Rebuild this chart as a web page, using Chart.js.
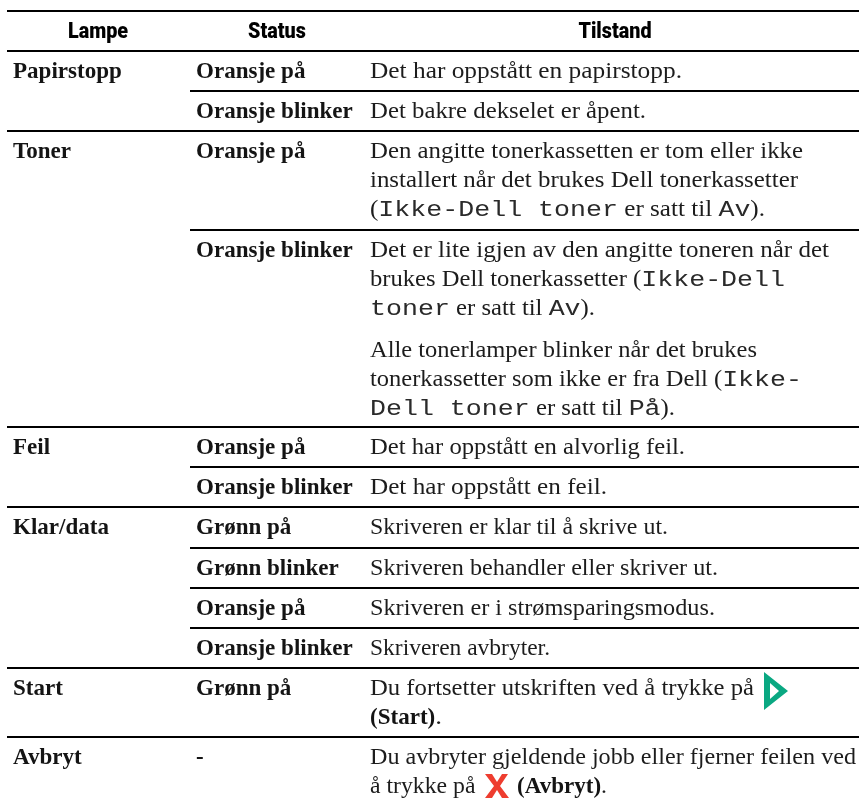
<!DOCTYPE html>
<html>
<head>
<meta charset="utf-8">
<style>
html, body { margin: 0; padding: 0; background: #fff; }
canvas { display: block; }
</style>
</head>
<body>
<canvas id="lampChart" width="859" height="798"></canvas>
<script src="https://cdn.jsdelivr.net/npm/chart.js@4"></script>
<script>
// table content. `x` = monospace run, *x* = bold run
var headers = ['Lampe', 'Status', 'Tilstand'];
var rowHeights = [40, 40, 40, 99, 197, 40, 40, 41, 40, 40, 40, 69, 61];
var lamps = ['', 'Papirstopp', '', 'Toner', '', 'Feil', '', 'Klar/data', '', '', '', 'Start', 'Avbryt'];
var statuses = ['', 'Oransje på', 'Oransje blinker', 'Oransje på', 'Oransje blinker', 'Oransje på',
    'Oransje blinker', 'Grønn på', 'Grønn blinker', 'Oransje på', 'Oransje blinker', 'Grønn på', '-'];
var descriptions = [
    [],
    ['Det har oppstått en papirstopp.'],
    ['Det bakre dekselet er åpent.'],
    ['Den angitte tonerkassetten er tom eller ikke', 'installert når det brukes Dell tonerkassetter',
        '(`Ikke-Dell toner` er satt til `Av`).'],
    ['Det er lite igjen av den angitte toneren når det', 'brukes Dell tonerkassetter (`Ikke-Dell`',
        '`toner` er satt til `Av`).', null,
        'Alle tonerlamper blinker når det brukes', 'tonerkassetter som ikke er fra Dell (`Ikke-`',
        '`Dell toner` er satt til `På`).'],
    ['Det har oppstått en alvorlig feil.'],
    ['Det har oppstått en feil.'],
    ['Skriveren er klar til å skrive ut.'],
    ['Skriveren behandler eller skriver ut.'],
    ['Skriveren er i strømsparingsmodus.'],
    ['Skriveren avbryter.'],
    ['Du fortsetter utskriften ved å trykke på', '*(Start)*.'],
    ['Du avbryter gjeldende jobb eller fjerner feilen ved', 'å trykke på \u2003\u2002*(Avbryt)*.']
];
// right end of every description line
var lineEnds = [
    [],
    [682],
    [646],
    [803, 798, 765],
    [829, 785, 595, null, 757, 802, 675],
    [685],
    [607],
    [668],
    [718],
    [715],
    [550],
    [754, 442],
    [856, 607]
];
var startIcon = [{ x: 776, y: 691 }];
var stopIcon = [{ x: 497, y: 786 }];

var tableTop = 11;
var tableLeft = 7;
var tableRight = 859;
var statusRuleLeft = 190;
var colX = [13, 196, 370];
var headerX = [98, 277, 615];
var lineHeight = 29;
var paragraphGap = 13;
var firstBaseline = 27;

var fonts = {
    n: { font: '23.5px "Liberation Serif"', scaleX: 1.03, color: '#1c1c1c' },
    b: { font: 'bold 24px "Liberation Serif"', scaleX: 0.96, color: '#141414' },
    m: { font: '22px "Liberation Mono"', scaleX: 1.21, color: '#2a2a2a' },
    h: { font: '900 21.5px Roboto', scaleX: 0.92, color: '#000' }
};

var rowTops = [];
rowHeights.reduce(function (top, h) {
    rowTops.push(top);
    return top + h;
}, tableTop);

function parseRuns(line, base) {
    var runs = [];
    line.split(/(`[^`]*`|\*[^*]*\*)/).forEach(function (part) {
        if (!part) return;
        if (part[0] === '`') runs.push({ text: part.slice(1, -1), style: 'm' });
        else if (part[0] === '*') runs.push({ text: part.slice(1, -1), style: 'b' });
        else runs.push({ text: part, style: base });
    });
    return runs;
}

function naturalWidth(ctx, text, f) {
    ctx.save();
    ctx.font = f.font;
    var w = ctx.measureText(text).width;
    ctx.restore();
    return w;
}

function drawRuns(ctx, runs, x, y, end) {
    // the plain serif runs are squeezed or stretched so the line ends where it should
    var fit = fonts.n.scaleX;
    if (end) {
        var fixed = 0;
        var plain = 0;
        runs.forEach(function (run) {
            var f = fonts[run.style];
            if (run.style === 'n') plain += naturalWidth(ctx, run.text, f);
            else fixed += naturalWidth(ctx, run.text, f) * f.scaleX;
        });
        if (plain > 0) fit = (end - x - fixed) / plain;
    }
    runs.forEach(function (run) {
        var f = fonts[run.style];
        var scale = run.style === 'n' ? fit : f.scaleX;
        ctx.save();
        ctx.font = f.font;
        ctx.fillStyle = f.color;
        ctx.textBaseline = 'alphabetic';
        ctx.translate(x, y);
        ctx.scale(scale, 1);
        ctx.fillText(run.text, 0, 0);
        ctx.restore();
        x += naturalWidth(ctx, run.text, f) * scale;
    });
}

var tableText = {
    id: 'tableText',
    afterDatasetsDraw: function (chart) {
        var ctx = chart.ctx;
        var sx = chart.scales.x;
        var sy = chart.scales.y;

        headers.forEach(function (h, i) {
            var w = naturalWidth(ctx, h, fonts.h) * fonts.h.scaleX;
            drawRuns(ctx, [{ text: h, style: 'h' }],
                sx.getPixelForValue(headerX[i]) - w / 2, sy.getPixelForValue(tableTop + firstBaseline));
        });

        rowTops.forEach(function (top, r) {
            var base = top + firstBaseline;
            if (lamps[r]) drawRuns(ctx, [{ text: lamps[r], style: 'b' }], sx.getPixelForValue(colX[0]), sy.getPixelForValue(base));
            if (statuses[r]) drawRuns(ctx, [{ text: statuses[r], style: 'b' }], sx.getPixelForValue(colX[1]), sy.getPixelForValue(base));
            var y = base;
            descriptions[r].forEach(function (line, l) {
                if (line === null) {
                    y += paragraphGap;
                    return;
                }
                drawRuns(ctx, parseRuns(line, 'n'), sx.getPixelForValue(colX[2]), sy.getPixelForValue(y),
                    sx.getPixelForValue(lineEnds[r][l]));
                y += lineHeight;
            });
        });
    }
};

function makeStartIcon() {
    var c = document.createElement('canvas');
    c.width = 26;
    c.height = 38;
    var g = c.getContext('2d');
    g.fillStyle = '#0aa882';
    g.beginPath();
    g.moveTo(1, 0);
    g.lineTo(25, 19);
    g.lineTo(1, 38);
    g.closePath();
    g.moveTo(7, 11);
    g.lineTo(7, 27);
    g.lineTo(16, 19);
    g.closePath();
    g.fill('evenodd');
    return c;
}

function makeStopIcon() {
    var c = document.createElement('canvas');
    c.width = 24;
    c.height = 24;
    var g = c.getContext('2d');
    g.fillStyle = '#ee3d2f';
    g.beginPath();
    g.moveTo(0, 0);
    g.lineTo(7, 0);
    g.lineTo(12, 8);
    g.lineTo(17, 0);
    g.lineTo(23, 0);
    g.lineTo(15, 12);
    g.lineTo(24, 24);
    g.lineTo(17, 24);
    g.lineTo(12, 16);
    g.lineTo(7, 24);
    g.lineTo(0, 24);
    g.lineTo(9, 12);
    g.closePath();
    g.fill();
    return c;
}

// one line dataset per rule
var datasets = [];
function addRule(y, left) {
    datasets.push({
        type: 'line',
        data: [{ x: left, y: y }, { x: tableRight, y: y }],
        borderColor: '#000',
        borderWidth: 2,
        pointRadius: 0,
        pointHoverRadius: 0,
        clip: false
    });
}
addRule(tableTop, tableLeft);
rowTops.forEach(function (top, r) {
    if (r === 0) return;
    addRule(top, (r === 1 || lamps[r]) ? tableLeft : statusRuleLeft);
});
datasets.push({ type: 'scatter', data: startIcon, pointStyle: makeStartIcon(), pointRadius: 1, pointHoverRadius: 0, pointBorderWidth: 0, clip: false });
datasets.push({ type: 'scatter', data: stopIcon, pointStyle: makeStopIcon(), pointRadius: 1, pointHoverRadius: 0, pointBorderWidth: 0, clip: false });

new Chart(document.getElementById('lampChart'), {
    type: 'scatter',
    data: { datasets: datasets },
    options: {
        responsive: false,
        animation: false,
        events: [],
        layout: { padding: 0 },
        plugins: { legend: { display: false }, tooltip: { enabled: false }, title: { display: false } },
        scales: {
            // the rules' line width insets the chart area by 1px, so the domain starts at 1
            x: { type: 'linear', display: false, min: 1, max: 858 },
            y: { type: 'linear', display: false, min: 1, max: 797, reverse: true }
        }
    },
    plugins: [tableText]
});
</script>
</body>
</html>
